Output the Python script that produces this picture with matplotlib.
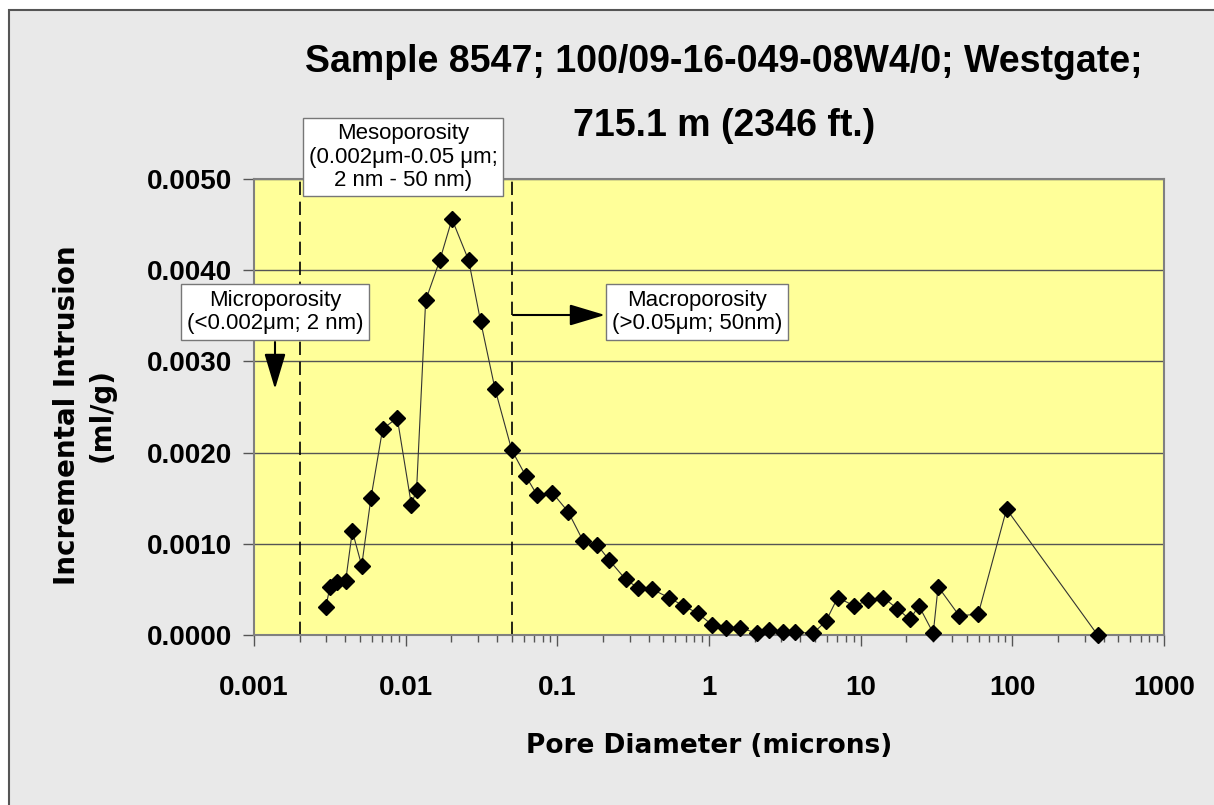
import numpy as np
import matplotlib
matplotlib.use("Agg")
import matplotlib.pyplot as plt
from matplotlib.patches import Rectangle
from matplotlib.ticker import FixedLocator, FixedFormatter, FormatStrFormatter, LogLocator, NullFormatter

# pore diameter (microns) and incremental intrusion (ml/g)
pore_d = [0.00298, 0.00317, 0.00354, 0.00402, 0.00445, 0.00513, 0.0059, 0.00705, 0.0088,
          0.0109, 0.0118, 0.01355, 0.0168, 0.0202, 0.026, 0.0312, 0.0388, 0.050, 0.0621,
          0.0738, 0.0927, 0.118, 0.148, 0.183, 0.220, 0.282, 0.338, 0.423, 0.544, 0.677,
          0.841, 1.05, 1.29, 1.61, 2.06, 2.49, 3.08, 3.68, 4.86, 5.90, 7.05, 9.06, 11.2,
          14.1, 17.4, 21.1, 24.2, 30.1, 32.4, 44.7, 59.6, 91.6, 365]
intrusion = [0.00031, 0.00053, 0.00058, 0.00059, 0.00114, 0.00076, 0.00150, 0.00226, 0.00238,
             0.00143, 0.00159, 0.00367, 0.00411, 0.00456, 0.00411, 0.00344, 0.00270, 0.00203, 0.00174,
             0.00153, 0.00156, 0.00135, 0.00103, 0.00099, 0.00082, 0.00061, 0.00052, 0.00050, 0.00041, 0.00032,
             0.00024, 0.00011, 0.00008, 0.00008, 0.00002, 0.00006, 0.00003, 0.00003, 0.00002, 0.00015, 0.00041, 0.00032, 0.00038,
             0.00041, 0.00029, 0.00017, 0.00032, 0.00002, 0.00053, 0.00021, 0.00023, 0.00138, 0.0]

x_ticks = [0.001, 0.01, 0.1, 1, 10, 100, 1000]
x_tick_labels = ['0.001', '0.01', '0.1', '1', '10', '100', '1000']
y_ticks = [0.0, 0.001, 0.002, 0.003, 0.004, 0.005]
boundaries = [0.002, 0.05]

title1 = 'Sample 8547; 100/09-16-049-08W4/0; Westgate;'
title2 = '715.1 m (2346 ft.)'

W, H = 1214, 805
fig = plt.figure(figsize=(W / 100, H / 100), dpi=100, facecolor='white')

def fx(px):
    return px / W

def fy(py):
    return 1 - py / H

# grey chart area with dark border on top/left
fig.patches.append(Rectangle((fx(9), -0.01), 1.1, fy(10) + 0.01, transform=fig.transFigure,
                             facecolor='#e9e9e9', edgecolor='#555555', lw=1.5, zorder=-10))

ax = fig.add_axes([fx(254), fy(635), fx(1164) - fx(254), fy(179) - fy(635)])
ax.set_facecolor('#ffff99')
ax.set_xscale('log')
ax.set_xlim(0.001, 1000)
ax.set_ylim(0, 0.005)

for s in ax.spines.values():
    s.set_color('#808080')
    s.set_linewidth(1.5)

ax.yaxis.set_major_locator(FixedLocator(y_ticks))
ax.yaxis.set_major_formatter(FormatStrFormatter('%.4f'))
ax.xaxis.set_major_locator(FixedLocator(x_ticks))
ax.xaxis.set_major_formatter(FixedFormatter(x_tick_labels))
ax.xaxis.set_minor_locator(LogLocator(base=10, subs=np.arange(2, 10)))
ax.xaxis.set_minor_formatter(NullFormatter())

ax.tick_params(axis='both', which='major', direction='out', length=8, width=1, color='#555555',
               labelsize=20)
ax.tick_params(axis='x', which='minor', direction='out', length=5, width=1, color='#555555')
ax.tick_params(axis='x', which='major', pad=21)
ax.tick_params(axis='y', which='major', pad=8)
for lab in ax.get_xticklabels() + ax.get_yticklabels():
    lab.set_fontweight('bold')
    lab.set_family('Liberation Sans')

ax.grid(axis='y', color='#555555', lw=1)
ax.set_axisbelow(True)

for b in boundaries:
    ax.axvline(b, color='black', lw=1.2, ls=(0, (8, 4)), zorder=2)

ax.plot(pore_d, intrusion, color='#333333', lw=0.8, marker='D', ms=8.5,
        mfc='black', mec='black', clip_on=False, zorder=3)

# titles and axis labels
fig.text(fx(724), fy(62), title1, ha='center', va='center', fontsize=27, fontweight='bold',
         family='Liberation Sans')
fig.text(fx(724), fy(126), title2, ha='center', va='center', fontsize=27, fontweight='bold',
         family='Liberation Sans')
fig.text(fx(709), fy(746), 'Pore Diameter (microns)', ha='center', va='center', fontsize=19,
         fontweight='bold', family='DejaVu Sans')
fig.text(fx(84), fy(415), 'Incremental Intrusion\n(ml/g)', ha='center', va='center', rotation=90,
         fontsize=20, fontweight='bold', family='DejaVu Sans', linespacing=1.3)

box = dict(boxstyle='square,pad=0.25', facecolor='white', edgecolor='#777777', lw=1)
fig.text(fx(403), fy(157), 'Mesoporosity\n(0.002\u03bcm-0.05 \u03bcm;\n2 nm - 50 nm)', ha='center',
         va='center', fontsize=16, family='Liberation Sans', bbox=box, linespacing=1.15, zorder=5)
fig.text(fx(275), fy(312), 'Microporosity\n(<0.002\u03bcm; 2 nm)', ha='center',
         va='center', fontsize=16, family='Liberation Sans', bbox=box, linespacing=1.15, zorder=5)
fig.text(fx(697), fy(312), 'Macroporosity\n(>0.05\u03bcm; 50nm)', ha='center',
         va='center', fontsize=16, family='Liberation Sans', bbox=box, linespacing=1.15, zorder=5)

arrow = dict(arrowstyle='-|>,head_length=1.0,head_width=0.3', color='black', lw=1.5,
             shrinkA=0, shrinkB=0, mutation_scale=22)
ax.annotate('', xy=(fx(275), fy(389)), xytext=(fx(275), fy(342)), xycoords='figure fraction',
            textcoords='figure fraction', arrowprops=arrow, annotation_clip=False)
ax.annotate('', xy=(fx(605), fy(315)), xytext=(fx(513), fy(315)), xycoords='figure fraction',
            textcoords='figure fraction', arrowprops=arrow, annotation_clip=False)

fig.savefig('out.png', dpi=100, facecolor=fig.get_facecolor())
